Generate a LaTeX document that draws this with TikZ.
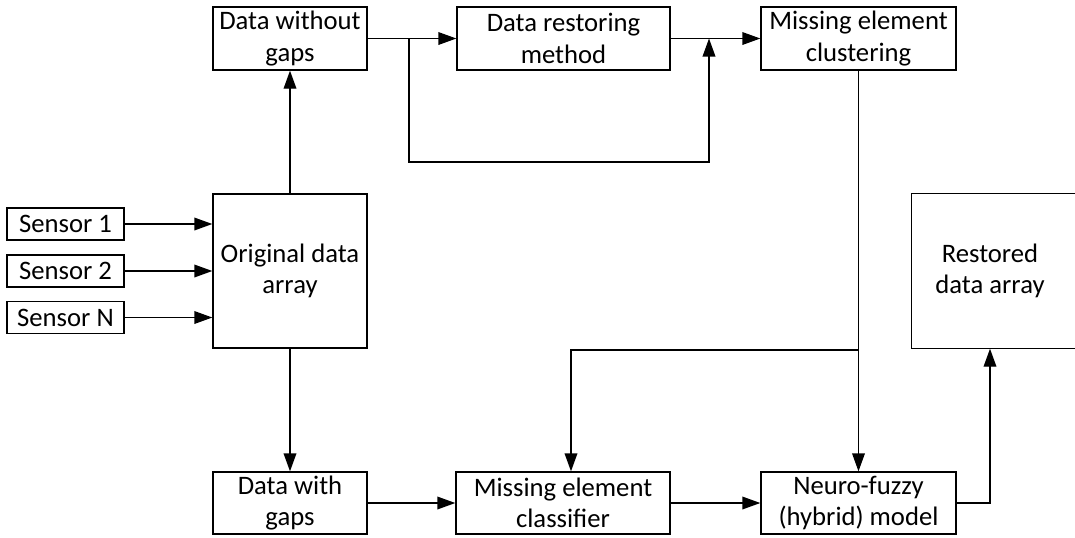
\documentclass[tikz,border=0pt]{standalone}
\usepackage{fontspec}
\setmainfont{Carlito}
\usetikzlibrary{arrows.meta}
\usetikzlibrary{positioning}
\tikzset{blk/.style = {draw, line width = 1pt, align = center, inner sep = 0pt, font = \fontsize{20}{23.5}\selectfont}}
\tikzset{arr/.style = {line width = 1pt, -{Triangle[length = 13.5pt, width = 9.5pt]}}}

\begin{document}
\begin{tikzpicture}[x = 0.75pt, y = -0.75pt]
      \useasboundingbox (0, 0) rectangle (1075, 537);
      % top row
      \node [blk, minimum width = 115.5pt, minimum height = 47.25pt] (dwog) at (290, 38.5) {Data without\\gaps};
      \node [blk, minimum width = 159.75pt, minimum height = 47.25pt] (drm) at (563.5, 38.5) {Data restoring\\method};
      \node [blk, minimum width = 146.25pt, minimum height = 47.25pt] (mec) at (858.5, 38.5) {Missing element\\clustering};
      % middle row
      \node [blk, minimum width = 87.75pt, minimum height = 24pt] (s1) at (65.5, 224) {Sensor 1};
      \node [blk, minimum width = 87.75pt, minimum height = 24pt] (s2) at (65.5, 271) {Sensor 2};
      \node [blk, minimum width = 87.75pt, minimum height = 24pt] (sn) at (65.5, 317.5) {Sensor N};
      \node [blk, minimum width = 115.5pt, minimum height = 115.5pt] (oda) at (290, 271) {Original data\\array};
      \node [blk, draw = none, minimum width = 117pt, minimum height = 115.5pt] (rda) at (990, 271) {Restored\\data array};
      \draw [line width = 1pt] ([xshift = 20pt] rda.north east) -- (rda.north west) -- (rda.south west) -- ([xshift = 20pt] rda.south east);
      % bottom row
      \node [blk, minimum width = 115.5pt, minimum height = 46.5pt] (dwg) at (290, 503) {Data with\\gaps};
      \node [blk, minimum width = 160.5pt, minimum height = 46.5pt] (mcl) at (563, 503) {Missing element\\classifier};
      \node [blk, minimum width = 146.25pt, minimum height = 46.5pt] (nf) at (858.5, 503) {Neuro-fuzzy\\(hybrid) model};
      % branch points
      \coordinate (b1) at (409, 38.5);
      \coordinate (b2) at (709, 38.5);
      \coordinate (lp) at (709, 162);
      \coordinate (b3) at (858.5, 350);
      \coordinate (b4) at (571, 350);
      % connectors
      \foreach \s in {s1, s2, sn} {
        \draw [arr] (\s.east) -- (\s -| oda.west);
      }
      \draw [arr] (oda.north) -- (dwog.south);
      \draw [arr] (oda.south) -- (dwg.north);
      \draw [arr] (dwog.east) -- (drm.west);
      \draw [arr] (b1) -- (b1 |- lp) -- (lp) -- (b2);
      \draw [arr] (drm.east) -- (mec.west);
      \draw [arr] (mec.south) -- (nf.north);
      \draw [arr] (b3) -- (b4) -- (b4 |- mcl.north);
      \draw [arr] (dwg.east) -- (mcl.west);
      \draw [arr] (mcl.east) -- (nf.west);
      \draw [arr] (nf.east) -| (rda.south);
    \end{tikzpicture}
\end{document}
